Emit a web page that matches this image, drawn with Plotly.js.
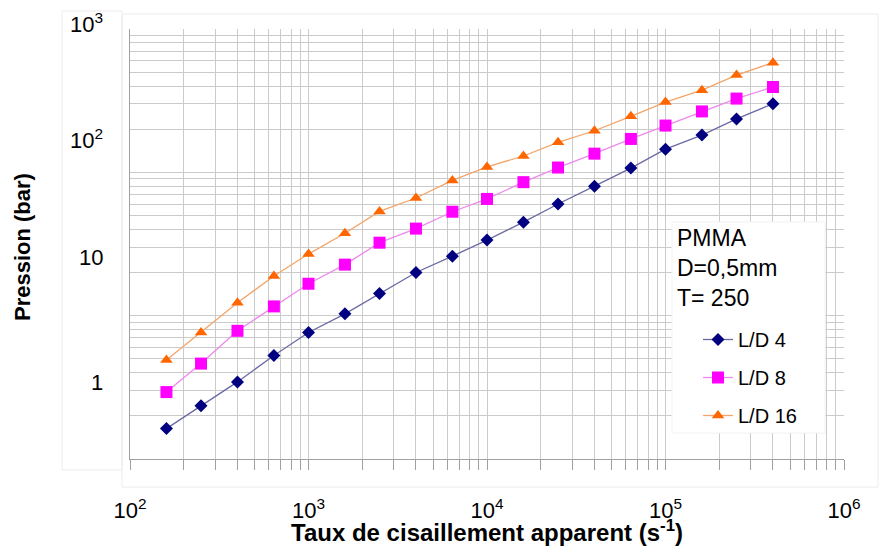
<!DOCTYPE html>
<html><head><meta charset="utf-8">
<script src="https://cdn.plot.ly/plotly-3.0.1.min.js"></script>
<style>html,body{margin:0;padding:0;background:#fff}#chart{width:885px;height:546px}</style>
</head><body><div id="chart"></div>
<script>
// ---- data ----
const shearRate = [160, 250, 400, 640, 1000, 1600, 2500, 4000, 6400, 10000, 16000, 25000, 40000, 64000, 100000, 160000, 250000, 400000];
const pressureLD4  = [1.63, 2.35, 3.45, 5.28, 7.63, 10.3, 14.3, 20.0, 26.0, 33.7, 44.9, 60.1, 80.1, 107, 145, 182, 236, 301];
const pressureLD8  = [2.93, 4.63, 7.84, 11.6, 16.7, 22.7, 32.3, 40.5, 53.1, 65.2, 85.4, 108, 135, 171, 212, 266, 327, 394];
const pressureLD16 = [4.90, 7.63, 12.3, 18.9, 26.9, 37.6, 53.4, 66.2, 87.8, 109, 130, 162, 195, 246, 309, 374, 477, 582];
const seriesNames = ['L/D 4', 'L/D 8', 'L/D 16'];
const xTickVals = [1e2, 1e3, 1e4, 1e5, 1e6];
const xTickLabels = ['10<sup>2</sup>', '10<sup>3</sup>', '10<sup>4</sup>', '10<sup>5</sup>', '10<sup>6</sup>'];
const yTickVals = [1e3, 1e2, 10, 1];
const yTickLabels = ['10<sup>3</sup>', '10<sup>2</sup>', '10', '1'];
const infoText = ['PMMA', 'D=0,5mm', 'T= 250'];
const xTitle = 'Taux de cisaillement apparent (s<sup>-1</sup>)';
const yTitle = 'Pression (bar)';

// ---- minor grid values (2..9 x 10^n) ----
function minorGrid(from, to) {
  const v = [];
  for (let n = from; n < to; n++) for (let k = 2; k <= 9; k++) v.push(k * Math.pow(10, n));
  return v;
}

const FONT = 'Liberation Sans, Arial, sans-serif';
const GRID = '#cbcbcb';
const AXIS = '#a0a0a0';
const styles = [
  {symbol: 'diamond', size: 10, color: '#000080', line: '#6a6aa6'},
  {symbol: 'square', size: 12, color: '#ff00ff', line: '#ee88ee'},
  {symbol: 'triangle-up', size: 11, color: '#ff6600', line: '#f4a468'}
];
const ys = [pressureLD4, pressureLD8, pressureLD16];
const traces = ys.map((y, i) => ({
  x: shearRate, y: y, name: seriesNames[i], type: 'scatter', mode: 'lines+markers',
  legendgroup: 'g' + i,
  line: {color: styles[i].line, width: 1.3},
  marker: {symbol: styles[i].symbol, size: styles[i].size, color: styles[i].color}
}));

// plot area in pixels: x 130..844, y 29..459
const L = 130, R = 844, T = 29, B = 459;
const px = x => (x - L) / (R - L);
const py = y => 1 - (y - T) / (B - T);

const yLabelPos = [23, 139.5, 257, 382];
const annotations = yTickLabels.map((t, i) => ({
  text: t, xref: 'paper', yref: 'paper', x: px(105), y: py(yLabelPos[i]),
  xanchor: 'right', yanchor: 'middle', showarrow: false,
  font: {family: FONT, size: 22, color: '#000'}
}));
annotations.push({
  text: infoText.join('<br>'), xref: 'paper', yref: 'paper', x: px(675), y: py(223),
  xanchor: 'left', yanchor: 'top', align: 'left', showarrow: false,
  font: {family: FONT, size: 23, color: '#000'}
});
annotations.push({
  text: yTitle, xref: 'paper', yref: 'paper', x: px(22), y: py(247), textangle: -90,
  xanchor: 'center', yanchor: 'middle', showarrow: false,
  font: {family: FONT, size: 22, color: '#000', weight: 'bold'}
});

const layout = {
  width: 885, height: 546,
  margin: {l: L, r: 885 - R, t: T, b: 546 - B},
  paper_bgcolor: '#fff', plot_bgcolor: '#fff',
  font: {family: FONT, color: '#000'},
  xaxis: {
    type: 'log', range: [2, 6], tickmode: 'array', tickvals: xTickVals, ticktext: xTickLabels,
    ticks: 'outside', ticklen: 10, tickcolor: AXIS, tickwidth: 1,
    minor: {tickmode: 'array', tickvals: minorGrid(2, 6), ticks: 'outside', ticklen: 10,
            tickcolor: AXIS, showgrid: true, gridcolor: GRID, gridwidth: 1},
    showline: true, linecolor: AXIS, linewidth: 1,
    showgrid: true, gridcolor: GRID, gridwidth: 1, zeroline: false,
    tickfont: {family: FONT, size: 22, color: '#000'}, ticklabelstandoff: 22,
    title: {text: xTitle, font: {family: FONT, size: 24, color: '#000', weight: 'bold'}, standoff: 4}
  },
  yaxis: {
    type: 'log', range: [0, 3], tickmode: 'array', tickvals: yTickVals, showticklabels: false,
    ticks: '',
    minor: {tickmode: 'array', tickvals: minorGrid(0, 3), ticks: '',
            showgrid: true, gridcolor: GRID, gridwidth: 1},
    showline: true, linecolor: AXIS, linewidth: 1,
    showgrid: true, gridcolor: GRID, gridwidth: 1, zeroline: false
  },
  showlegend: true,
  legend: {
    x: px(698), y: py(320), xanchor: 'left', yanchor: 'top',
    bgcolor: 'rgba(0,0,0,0)', font: {family: FONT, size: 20, color: '#000'},
    tracegroupgap: 9, itemwidth: 30
  },
  shapes: [
    {type: 'rect', xref: 'paper', yref: 'paper', x0: px(62), x1: px(122), y0: py(470), y1: py(11),
     line: {color: '#ececec', width: 1}, fillcolor: 'rgba(0,0,0,0)', layer: 'below'},
    {type: 'rect', xref: 'paper', yref: 'paper', x0: px(122), x1: px(878), y0: py(487), y1: py(14),
     line: {color: '#ececec', width: 1}, fillcolor: 'rgba(0,0,0,0)', layer: 'below'},
    {type: 'rect', xref: 'paper', yref: 'paper', x0: px(672), x1: px(825), y0: py(433), y1: py(222),
     line: {color: '#f2f2f2', width: 1}, fillcolor: '#ffffff', layer: 'above'}
  ],
  annotations: annotations
};

Plotly.newPlot('chart', traces, layout, {displayModeBar: false, staticPlot: true});
</script>
</body></html>
